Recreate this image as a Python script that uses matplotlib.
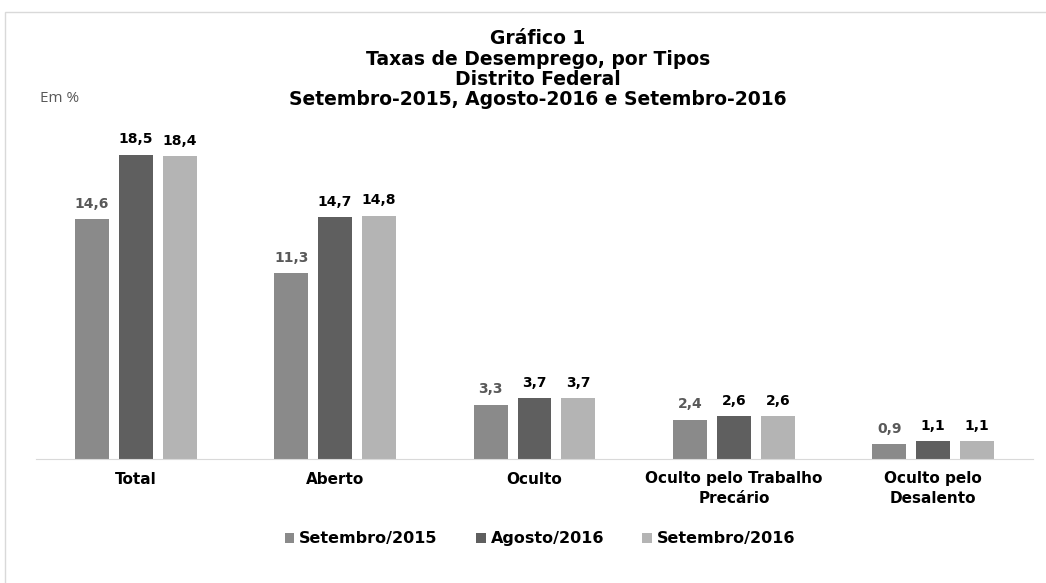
import matplotlib
matplotlib.use("Agg")
import matplotlib.pyplot as plt
from matplotlib.patches import Rectangle
import numpy as np

categories = ["Total", "Aberto", "Oculto", "Oculto pelo Trabalho\nPrecário", "Oculto pelo\nDesalento"]
series_names = ["Setembro/2015", "Agosto/2016", "Setembro/2016"]
set2015 = [14.6, 11.3, 3.3, 2.4, 0.9]
ago2016 = [18.5, 14.7, 3.7, 2.6, 1.1]
set2016 = [18.4, 14.8, 3.7, 2.6, 1.1]
series = [set2015, ago2016, set2016]
colors = ["#8a8a8a", "#5f5f5f", "#b4b4b4"]
label_colors = ["#595959", "#000000", "#000000"]

W, H = 1046, 583
fig = plt.figure(figsize=(W / 100, H / 100), dpi=100)
fig.patches.append(Rectangle((5 / W, -0.2), 1.2, 1.2 - 12 / H, transform=fig.transFigure,
                             fill=False, edgecolor="#d9d9d9", linewidth=1))

ax = fig.add_axes([36 / W, 1 - 459 / H, (1033 - 36) / W, (459 - 130) / H])
x = np.arange(len(categories))
width = 0.17
step = 0.22
for i, (vals, c, lc, name) in enumerate(zip(series, colors, label_colors, series_names)):
    pos = x + (i - 1) * step
    bars = ax.bar(pos, vals, width=width, color=c, label=name)
    for b, v in zip(bars, vals):
        ax.text(b.get_x() + b.get_width() / 2, v + 0.5, f"{v:.1f}".replace(".", ","),
                ha="center", va="bottom", fontsize=10, fontweight="bold", color=lc,
                family="DejaVu Sans")

ax.set_xlim(-0.5, len(categories) - 0.5)
ax.set_ylim(0, 20)
for s in ["top", "right", "left"]:
    ax.spines[s].set_visible(False)
ax.spines["bottom"].set_color("#d9d9d9")
ax.set_yticks([])
ax.set_xticks(x)
ax.set_xticklabels(categories, fontsize=11, fontweight="bold", family="DejaVu Sans",
                   linespacing=1.4)
ax.tick_params(axis="x", length=0, pad=9)

title_lines = ["Gráfico 1", "Taxas de Desemprego, por Tipos", "Distrito Federal",
               "Setembro-2015, Agosto-2016 e Setembro-2016"]
for j, t in enumerate(title_lines):
    fig.text(538 / W, 1 - (39 + j * 20.3) / H, t, ha="center", va="center",
             fontsize=13.5, fontweight="bold", family="DejaVu Sans")
fig.text(40 / W, 1 - 98 / H, "Em %", ha="left", va="center", fontsize=11,
         color="#595959", family="Open Sans")

leg = fig.legend(loc="center", bbox_to_anchor=(540 / W, 1 - 539 / H), ncol=3, frameon=False,
                 prop={"family": "DejaVu Sans", "weight": "bold", "size": 11.5},
                 handlelength=0.6, handleheight=0.6, handletextpad=0.3, columnspacing=2.4)

fig.savefig("out.png", dpi=100)
